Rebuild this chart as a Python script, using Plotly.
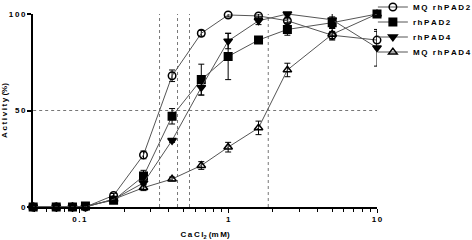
import plotly.graph_objects as go

# CaCl2 concentrations (mM)
conc = [0.049, 0.07, 0.09, 0.11, 0.17, 0.27, 0.42, 0.66, 1.0, 1.6, 2.5, 5.0, 10.0]

mq_rhpad2 = [0, 0, 0, 0, 6, 27, 68, 90, 99.5, 99, 96.5, 89, 86.5]
mq_rhpad2_err = [0, 0, 0, 0, 1, 2, 3, 1.5, 1, 1, 1, 2, 4.5]

rhpad2 = [0, 0, 0, 0.5, 3.5, 16, 47, 66, 78, 86.5, 92, 95.5, 100]
rhpad2_err = [0, 0, 0, 0, 1, 3, 4, 8, 12, 1, 3, 3, 0.5]

rhpad4 = [0, 0, 0, 0, 4, 12.5, 34.5, 62, 86, 96.5, 100, 97, 82.5]
rhpad4_err = [0, 0, 0, 0, 1, 1, 1, 4, 4, 2, 1, 4, 9.5]

mq_rhpad4 = [0, 0, 0, 0, 4, 10, 14.5, 21.5, 31, 41, 71, 89.5, 100]
mq_rhpad4_err = [0, 0, 0, 0, 1, 1.5, 1, 2, 2.5, 3.5, 3.5, 3, 0.5]

ec50 = [0.346, 0.457, 0.55, 1.86]

x_ticks = [0.1, 1, 10]
x_tick_labels = ["0.1", "1", "10"]
y_ticks = [0, 50, 100]
y_tick_labels = ["0", "50", "100"]

names = ["MQ rhPAD2", "rhPAD2", "rhPAD4", "MQ rhPAD4"]
TS = "\u2009"


def spaced(s):
    return TS.join(list(s))


series = [
    (mq_rhpad2, mq_rhpad2_err, "circle-open"),
    (rhpad2, rhpad2_err, "square"),
    (rhpad4, rhpad4_err, "triangle-down"),
    (mq_rhpad4, mq_rhpad4_err, "triangle-up-open"),
]
legend_ids = ["legend", "legend2", "legend3", "legend4"]
legend_rows_px = [7, 22, 37, 52]

fig = go.Figure()

for xv in ec50:
    fig.add_shape(type="line", xref="x", yref="y", x0=xv, x1=xv, y0=0, y1=100,
                  line=dict(color="#777777", width=1, dash="dot"), layer="below")
fig.add_shape(type="line", xref="x", yref="y", x0=conc[0], x1=10, y0=50, y1=50,
              line=dict(color="#777777", width=1, dash="dot"), layer="below")

for name, (vals, errs, sym), lid in zip(names, series, legend_ids):
    fig.add_trace(go.Scatter(
        x=conc, y=vals, name=spaced(name), mode="lines+markers",
        legend=lid,
        line=dict(color="#555555", width=1),
        marker=dict(symbol=sym, size=7.5, color="black",
                    line=dict(color="black", width=1.5)),
        error_y=dict(type="data", array=errs, visible=True, color="black",
                     thickness=1, width=3),
        cliponaxis=False,
    ))

minor_vals = [m * 10 ** e for e in (-2, -1, 0) for m in range(2, 10)]
minor_vals = [v for v in minor_vals if 0.049 <= v <= 10]

H = 240
legend_layout = {}
for lid, row in zip(legend_ids, legend_rows_px):
    legend_layout[lid] = dict(
        x=0.79, y=1 - row / H, xref="container", yref="container",
        xanchor="left", yanchor="middle",
        font=dict(size=8, weight="bold"), itemwidth=30,
        bgcolor="rgba(0,0,0,0)", borderwidth=0)

fig.update_layout(
    width=472, height=H,
    margin=dict(l=33, r=95, t=14, b=33, autoexpand=False),
    paper_bgcolor="white", plot_bgcolor="white",
    font=dict(family="Liberation Sans, Arial, sans-serif", size=8, color="black", weight="bold"),
    showlegend=True,
    xaxis=dict(
        type="log", range=[-1.311, 1.0], automargin=False, layer="below traces",
        showline=True, linecolor="black", linewidth=1.5,
        showgrid=False, zeroline=False,
        ticks="outside", ticklen=4, tickwidth=1.2, tickcolor="black",
        tickvals=x_ticks, ticktext=[spaced(t) for t in x_tick_labels],
        minor=dict(tickvals=minor_vals, ticks="outside", ticklen=3,
                   tickwidth=1, tickcolor="black", showgrid=False),
        title=dict(text=TS.join(["C", "a", "C", "l<sub>2</sub>"]) + " (" + spaced("mM") + ")",
                   standoff=13, font=dict(size=8, weight="bold")),
    ),
    yaxis=dict(
        range=[0, 100], automargin=False, layer="below traces",
        showline=True, linecolor="black", linewidth=2,
        showgrid=False, zeroline=False,
        ticks="outside", ticklen=4, tickwidth=1.5, tickcolor="black",
        tickvals=y_ticks, ticktext=[spaced(t) for t in y_tick_labels],
        title=dict(text=spaced("Activity") + " (" + spaced("%") + ")",
                   standoff=2, font=dict(size=8, weight="bold")),
    ),
    **legend_layout,
)

fig.write_html("out.html", config={"displayModeBar": False},
               post_script="document.body.style.margin='0';")
